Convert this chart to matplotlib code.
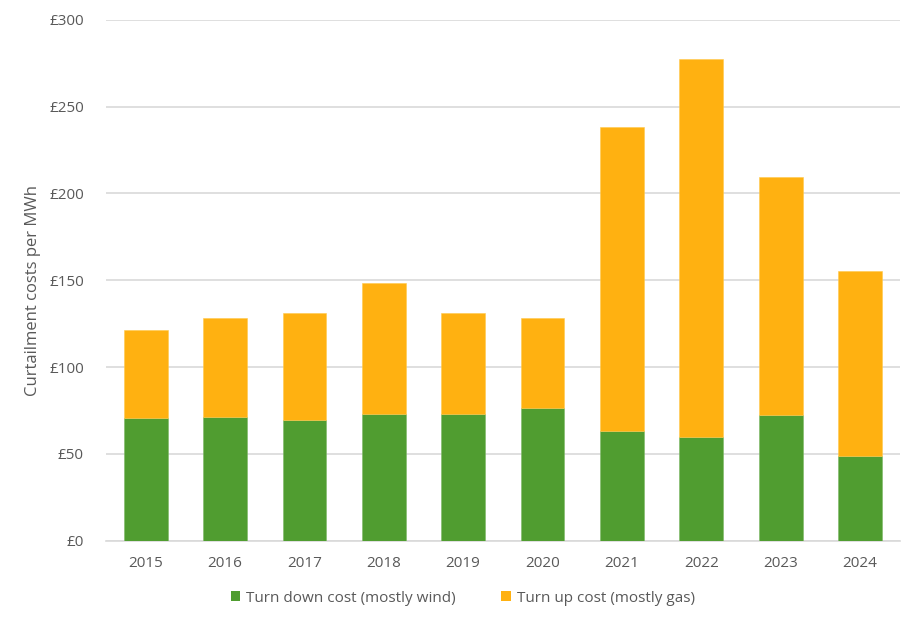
import matplotlib
matplotlib.use("Agg")
import matplotlib.pyplot as plt
from matplotlib.patches import Patch
import numpy as np

plt.rcParams['font.family'] = ['Open Sans', 'DejaVu Sans']

years = ["2015", "2016", "2017", "2018", "2019", "2020", "2021", "2022", "2023", "2024"]
turn_down = [70.8, 71.3, 69.6, 72.9, 72.9, 76.4, 63.1, 59.6, 72.5, 48.8]
total = [121.3, 128.4, 131.1, 148.4, 131.1, 128.4, 238.2, 277.2, 209.3, 155.5]
turn_up = [t - d for t, d in zip(total, turn_down)]
series_names = ["Turn down cost (mostly wind)", "Turn up cost (mostly gas)"]
yticks = [0, 50, 100, 150, 200, 250, 300]

green = "#509D30"
orange = "#FFB111"
text_col = "#595959"
grid_col = "#D9D9D9"

fig = plt.figure(figsize=(9.2, 6.25), dpi=100)
ax = fig.add_axes([0.1152, 0.1349, 0.8628, 0.8336])

x = np.arange(len(years))
w = 0.55
ax.bar(x, turn_down, w, color=green, edgecolor="#7DB866", linewidth=0.4, zorder=3)
ax.bar(x, turn_up, w, bottom=turn_down, color=orange, edgecolor="#FFC94D", linewidth=0.4, zorder=3)

ax.set_xlim(-0.5, len(years) - 0.5)
ax.set_ylim(0, 300)
ax.set_yticks(yticks)
ax.set_yticklabels([f"£{v}" for v in yticks])
ax.set_xticks(x)
ax.set_xticklabels(years)
ax.tick_params(axis='both', length=0, labelsize=11, colors=text_col)
ax.tick_params(axis='y', pad=16)
ax.tick_params(axis='x', pad=11)
ax.yaxis.grid(True, color=grid_col, linewidth=1.2, zorder=0)
ax.set_axisbelow(True)
for s in ["top", "right", "left"]:
    ax.spines[s].set_visible(False)
ax.spines["bottom"].set_color(grid_col)
ax.spines["bottom"].set_linewidth(1.2)

ax.set_ylabel("Curtailment costs per MWh", fontsize=12, color=text_col, labelpad=6, y=0.48)

handles = [Patch(facecolor=green, edgecolor="none"), Patch(facecolor=orange, edgecolor="none")]
fig.legend(handles, series_names, loc="center", bbox_to_anchor=(0.503, 0.043), ncol=2,
           frameon=False, fontsize=11, labelcolor=text_col, handlelength=0.6, handleheight=0.6,
           handletextpad=0.4, columnspacing=3.0)

fig.savefig("out.png", dpi=100)
